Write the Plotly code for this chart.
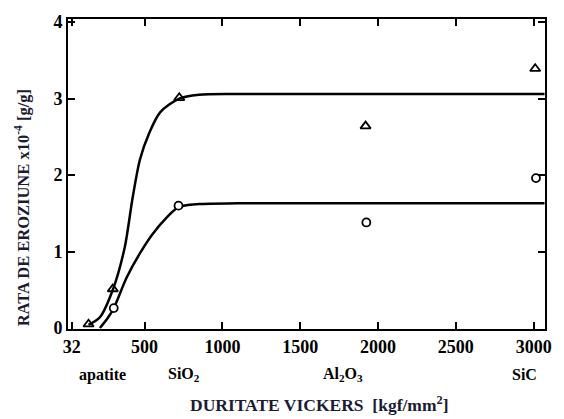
import plotly.graph_objects as go

# Measured points
tri_x = [140, 296, 723, 1920, 3010]
tri_y = [0.05, 0.51, 3.01, 2.64, 3.39]
circ_x = [302, 718, 1925, 3015]
circ_y = [0.26, 1.60, 1.38, 1.96]

# Fitted curves
upper_x = [140, 213, 296, 372, 423, 470, 530, 600, 723, 850, 1100, 3070]
upper_y = [0.04, 0.14, 0.50, 1.05, 1.70, 2.20, 2.55, 2.82, 3.00, 3.05, 3.06, 3.06]
lower_x = [213, 260, 302, 385, 468, 552, 640, 718, 851, 1100, 3070]
lower_y = [0.0, 0.12, 0.26, 0.66, 0.97, 1.23, 1.44, 1.58, 1.62, 1.63, 1.63]

xtick_vals = [32, 500, 1000, 1500, 2000, 2500, 3000]
xtick_text = ["32", "500", "1000", "1500", "2000", "2500", "3000"]
ytick_vals = [0, 1, 2, 3, 4]
ytick_text = ["0", "1", "2", "3", "4"]

materials = ["apatite", "SiO<sub>2</sub>", "Al<sub>2</sub>O<sub>3</sub>", "SiC"]
mat_pos = [0.073, 0.244, 0.577, 0.956]

SERIF = "Liberation Serif"

fig = go.Figure()
fig.add_trace(go.Scatter(x=upper_x, y=upper_y, mode="lines",
                         line=dict(color="black", width=2.5, shape="spline", smoothing=0.8),
                         showlegend=False, hoverinfo="skip"))
fig.add_trace(go.Scatter(x=lower_x, y=lower_y, mode="lines",
                         line=dict(color="black", width=2.5, shape="spline", smoothing=0.8),
                         showlegend=False, hoverinfo="skip"))
fig.add_trace(go.Scatter(x=tri_x, y=tri_y, mode="markers",
                         marker=dict(symbol="triangle-up-open", size=9, color="black",
                                     line=dict(width=1.8, color="black")),
                         showlegend=False))
fig.add_trace(go.Scatter(x=circ_x, y=circ_y, mode="markers",
                         marker=dict(symbol="circle", size=8, color="white",
                                     line=dict(width=1.8, color="black")),
                         showlegend=False))

fig.update_xaxes(range=[8, 3073], tickvals=xtick_vals, ticktext=xtick_text,
                 ticks="inside", ticklen=7, tickwidth=1.5, tickcolor="black",
                 showline=True, linecolor="black", linewidth=2, mirror="ticks",
                 showgrid=False, zeroline=False,
                 tickfont=dict(family=SERIF, size=18, color="black", weight="bold"))
fig.update_yaxes(range=[-0.013, 4.04], tickvals=ytick_vals, ticktext=ytick_text,
                 ticks="inside", ticklen=7, tickwidth=1.5, tickcolor="black",
                 showline=True, linecolor="black", linewidth=2, mirror="ticks",
                 showgrid=False, zeroline=False,
                 tickfont=dict(family=SERIF, size=18, color="black", weight="bold"))

for t, px in zip(materials, mat_pos):
    fig.add_annotation(text=t, xref="paper", yref="paper", x=px, y=-0.147,
                       showarrow=False, xanchor="center", yanchor="middle",
                       font=dict(family=SERIF, size=16, color="black", weight="bold"))

fig.add_annotation(text="DURITATE VICKERS  [kgf/mm<sup>2</sup>]", xref="paper", yref="paper",
                   x=0.527, y=-0.285, showarrow=False, xanchor="center", yanchor="bottom",
                   font=dict(family=SERIF, size=17.5, color="#1b1b33", weight="bold"))
fig.add_annotation(text="RATA DE EROZIUNE x10<sup>-4</sup> [g/g]", xref="paper", yref="paper",
                   x=-0.096, y=0.39, textangle=-90, showarrow=False,
                   xanchor="center", yanchor="middle",
                   font=dict(family=SERIF, size=16.5, color="#1b1b33", weight="bold"))

fig.update_layout(width=564, height=419, margin=dict(l=68, r=16, t=17, b=90),
                  plot_bgcolor="white", paper_bgcolor="white")
fig.write_html("out.html")
